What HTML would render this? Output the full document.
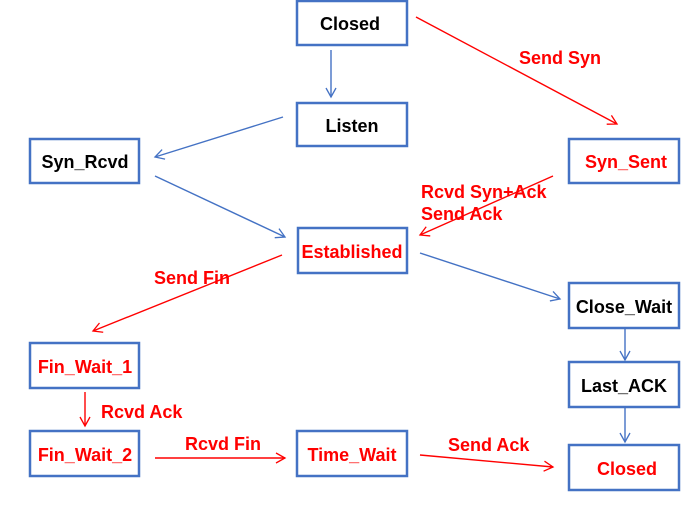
<!DOCTYPE html>
<html><head><meta charset="utf-8"><style>
body{margin:0;background:#fff}
svg text{font-family:"Liberation Sans",sans-serif;font-weight:bold;font-size:18px}
</style></head><body>
<svg width="696" height="505" viewBox="0 0 696 505" xmlns="http://www.w3.org/2000/svg">
<defs>
<marker id="b" markerWidth="12" markerHeight="12" refX="10" refY="6" orient="auto" markerUnits="userSpaceOnUse"><path d="M1,1 L10,6 L1,11" fill="none" stroke="#4472C4" stroke-width="1.3"/></marker>
<marker id="r" markerWidth="12" markerHeight="12" refX="10" refY="6" orient="auto" markerUnits="userSpaceOnUse"><path d="M1,1 L10,6 L1,11" fill="none" stroke="#FF0000" stroke-width="1.3"/></marker>
</defs>
<g fill="none" stroke="#4472C4" stroke-width="2.5">
<rect x="297" y="1" width="110" height="44"/>
<rect x="297" y="103" width="110" height="43"/>
<rect x="30" y="139" width="109" height="44"/>
<rect x="569" y="139" width="110" height="44"/>
<rect x="298" y="228" width="109" height="45"/>
<rect x="569" y="283" width="110" height="45"/>
<rect x="569" y="362" width="110" height="45"/>
<rect x="569" y="445" width="110" height="45"/>
<rect x="30" y="343" width="109" height="45"/>
<rect x="30" y="431" width="109" height="45"/>
<rect x="297" y="431" width="110" height="45"/>
</g>
<g stroke="#4472C4" stroke-width="1.4" marker-end="url(#b)">
<line x1="331" y1="50" x2="331" y2="97"/>
<line x1="283" y1="117" x2="155" y2="157"/>
<line x1="155" y1="176" x2="285" y2="237"/>
<line x1="420" y1="253" x2="560" y2="299"/>
<line x1="625" y1="329" x2="625" y2="360"/>
<line x1="625" y1="408" x2="625" y2="442"/>
</g>
<g stroke="#FF0000" stroke-width="1.4" marker-end="url(#r)">
<line x1="416" y1="17" x2="617" y2="124"/>
<line x1="553" y1="176" x2="420" y2="235"/>
<line x1="282" y1="255" x2="93" y2="331"/>
<line x1="85" y1="392" x2="85" y2="426"/>
<line x1="155" y1="458" x2="285" y2="458"/>
<line x1="420" y1="455" x2="553" y2="467"/>
</g>
<g fill="#000" text-anchor="middle">
<text x="350" y="30">Closed</text>
<text x="352" y="132">Listen</text>
<text x="85" y="168">Syn_Rcvd</text>
<text x="624" y="313">Close_Wait</text>
<text x="624" y="392">Last_ACK</text>
</g>
<g fill="#FF0000" text-anchor="middle">
<text x="626" y="168">Syn_Sent</text>
<text x="352" y="258">Established</text>
<text x="85" y="373">Fin_Wait_1</text>
<text x="85" y="461">Fin_Wait_2</text>
<text x="352" y="461">Time_Wait</text>
<text x="627" y="475">Closed</text>
</g>
<g fill="#FF0000">
<text x="519" y="64">Send Syn</text>
<text x="421" y="198">Rcvd Syn+Ack</text>
<text x="421" y="220">Send Ack</text>
<text x="154" y="284">Send Fin</text>
<text x="101" y="418">Rcvd Ack</text>
<text x="185" y="450">Rcvd Fin</text>
<text x="448" y="451">Send Ack</text>
</g>
</svg>
</body></html>
